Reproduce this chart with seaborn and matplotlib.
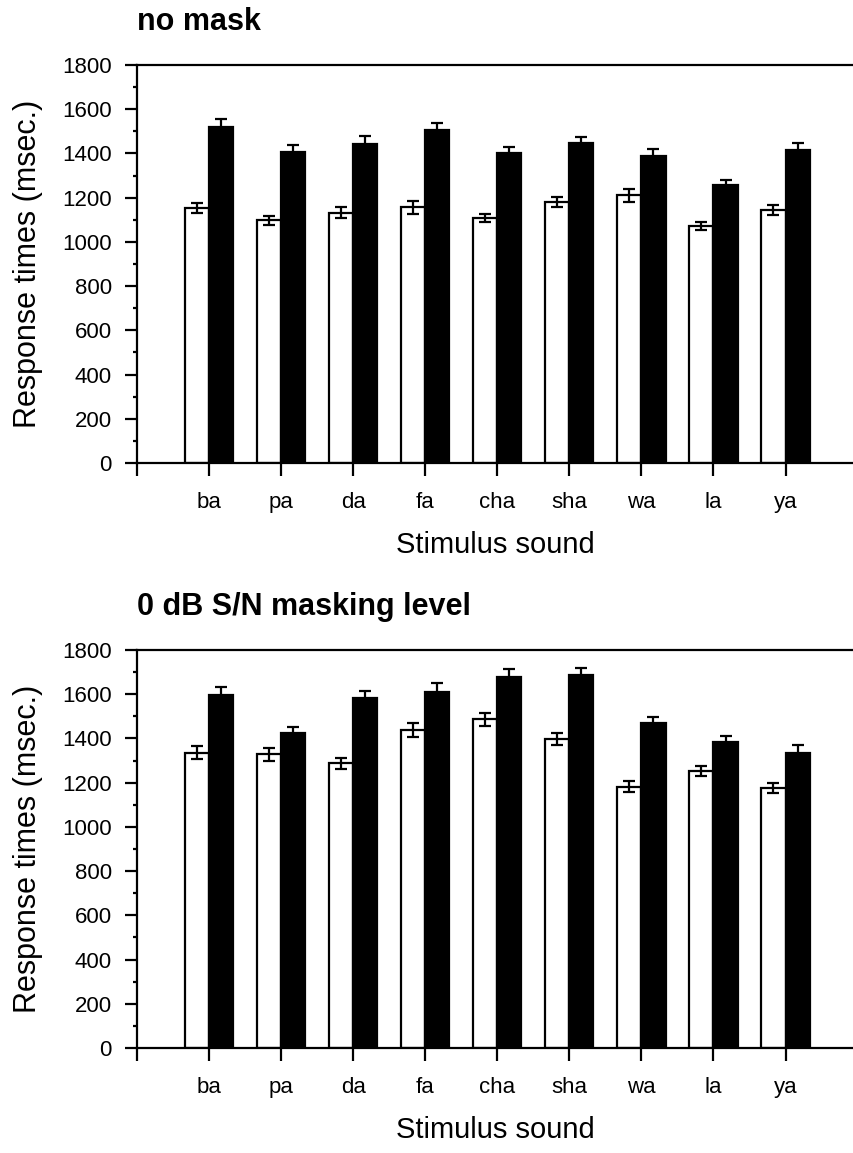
import pandas as pd
import numpy as np
import matplotlib
matplotlib.use("Agg")
import matplotlib.pyplot as plt
import seaborn as sns
from matplotlib.ticker import MultipleLocator

# data (msec.)
sounds = ["ba", "pa", "da", "fa", "cha", "sha", "wa", "la", "ya"]
conditions = ["open", "filled"]

nomask_white = [1155, 1097, 1132, 1156, 1107, 1179, 1210, 1073, 1144]
nomask_white_err = [22, 21, 25, 30, 18, 23, 30, 18, 22]
nomask_black = [1521, 1408, 1443, 1506, 1403, 1446, 1390, 1257, 1416]
nomask_black_err = [35, 29, 36, 33, 25, 30, 30, 25, 33]

mask_white = [1336, 1328, 1288, 1438, 1487, 1398, 1182, 1254, 1175]
mask_white_err = [30, 30, 25, 30, 30, 28, 24, 22, 22]
mask_black = [1597, 1423, 1584, 1612, 1679, 1687, 1468, 1383, 1336]
mask_black_err = [34, 30, 31, 37, 35, 33, 30, 30, 32]

titles = ["no mask", "0 dB S/N masking level"]

sns.set_style("ticks")
plt.rcParams["font.family"] = ["Liberation Sans", "DejaVu Sans"]
for key in ["text.color", "axes.labelcolor", "xtick.color", "ytick.color"]:
    plt.rcParams[key] = "black"


def long_frame(white, black):
    return pd.DataFrame({
        "sound": sounds * 2,
        "cond": [conditions[0]] * len(sounds) + [conditions[1]] * len(sounds),
        "rt": list(white) + list(black),
    })


fig = plt.figure(figsize=(8.54, 11.53), dpi=100)
ax_top = fig.add_axes([0.1604, 0.5984, 0.8396, 0.3452])
ax_bot = fig.add_axes([0.1604, 0.0911, 0.8396, 0.3452])

panels = [
    (ax_top, nomask_white, nomask_black, nomask_white_err, nomask_black_err, titles[0]),
    (ax_bot, mask_white, mask_black, mask_white_err, mask_black_err, titles[1]),
]

for ax, w, b, we, be, title in panels:
    df = long_frame(w, b)
    sns.barplot(data=df, x="sound", y="rt", hue="cond", order=sounds,
                hue_order=conditions, palette=["white", "black"],
                edgecolor="black", linewidth=1.6, width=0.67,
                errorbar=None, legend=False, ax=ax)

    # error bars centred on each bar
    for cont, errs in zip(ax.containers, [we, be]):
        xs = [p.get_x() + p.get_width() / 2 for p in cont]
        ys = [p.get_height() for p in cont]
        ax.errorbar(xs, ys, yerr=errs, fmt="none", ecolor="black",
                    elinewidth=1.6, capsize=4.5, capthick=1.6, zorder=5)

    ax.set_xlim(-1, 8.95)
    ax.set_ylim(0, 1800)
    ax.set_xticks(range(-1, len(sounds)))
    ax.set_xticklabels([""] + sounds)
    ax.yaxis.set_major_locator(MultipleLocator(200))
    ax.yaxis.set_minor_locator(MultipleLocator(100))

    for side in ["left", "top", "bottom"]:
        ax.spines[side].set_linewidth(1.6)
        ax.spines[side].set_color("black")
    ax.spines["right"].set_visible(False)

    ax.tick_params(axis="y", which="major", length=9, width=1.6,
                   labelsize=16, pad=9, direction="out")
    ax.tick_params(axis="y", which="minor", length=3, width=1.6,
                   direction="out")
    ax.tick_params(axis="x", length=9, width=1.6, labelsize=16, pad=12,
                   direction="out")

    ax.set_xlabel("Stimulus sound", fontsize=21, labelpad=13)
    ax.set_ylabel("Response times (msec.)", fontsize=22, labelpad=14)
    ax.set_title(title, loc="left", fontsize=22, fontweight="bold", pad=25)

fig.savefig("out.png", dpi=100)
